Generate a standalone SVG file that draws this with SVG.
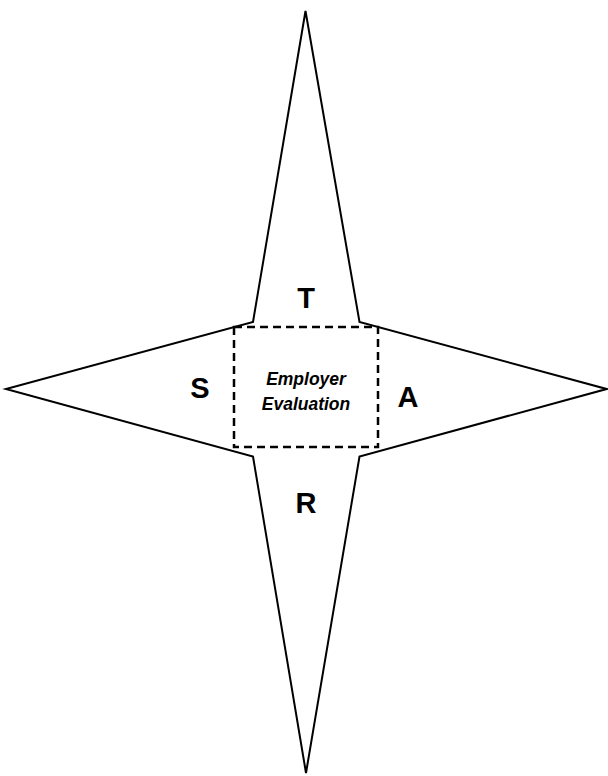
<svg xmlns="http://www.w3.org/2000/svg" width="608" height="776" viewBox="0 0 608 776">
<style>
.star{fill:#fff;stroke:#000;stroke-width:2;stroke-linejoin:miter}
.box{fill:none;stroke:#000;stroke-width:2.5;stroke-dasharray:8,5}
.big{font-family:"Liberation Sans",Arial,sans-serif;font-weight:bold;font-size:29px;text-anchor:middle;fill:#000}
.lbl{font-family:"Liberation Sans",Arial,sans-serif;font-weight:bold;font-style:italic;font-size:17.5px;text-anchor:middle;fill:#000}
</style>
<rect width="608" height="776" fill="#fff"/>
<g id="star">
<polygon class="star" points="305.5,11 359.5,322 606.5,389 359.5,456.5 306,773 253,456.5 6,389 253,322"/>
</g>
<g id="box">
<rect class="box" x="234" y="327" width="144" height="120"/>
<text class="lbl" x="306" y="385">Employer</text>
<text class="lbl" x="306" y="410">Evaluation</text>
</g>
<g id="T"><text class="big" x="306" y="308">T</text></g>
<g id="S"><text class="big" x="200" y="398">S</text></g>
<g id="A"><text class="big" x="408" y="407">A</text></g>
<g id="R"><text class="big" x="306" y="513">R</text></g>
</svg>
